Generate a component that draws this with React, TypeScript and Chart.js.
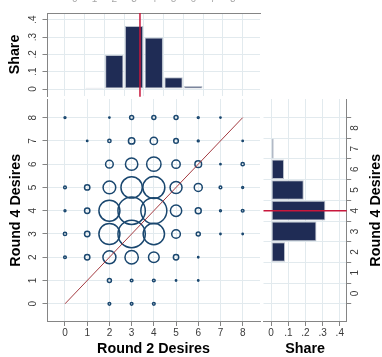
import React, { useEffect, useRef } from "react";
import { Chart, registerables } from "chart.js";

Chart.register(...registerables);

// ---------- data ----------
const ROUND2_LEVELS = [0, 1, 2, 3, 4, 5, 6, 7, 8];
const ROUND4_LEVELS = [0, 1, 2, 3, 4, 5, 6, 7, 8];

// frequency of each (Round 2, Round 4) pair; one array per Round 4 level, columns are Round 2 = 0..8
const FREQ_R4_0 = [0, 0, 4, 4, 4, 0, 0, 0, 0];
const FREQ_R4_1 = [0, 0, 9, 4, 4, 1, 1, 0, 0];
const FREQ_R4_2 = [4, 16, 95, 100, 64, 16, 1, 0, 0];
const FREQ_R4_3 = [6, 16, 248, 420, 256, 42, 9, 1, 1];
const FREQ_R4_4 = [2, 16, 248, 420, 380, 72, 20, 2, 4];
const FREQ_R4_5 = [4, 16, 90, 256, 272, 81, 36, 4, 2];
const FREQ_R4_6 = [0, 0, 33, 86, 116, 39, 25, 1, 6];
const FREQ_R4_7 = [0, 1, 6, 23, 30, 12, 2, 0, 1];
const FREQ_R4_8 = [2, 0, 1, 9, 9, 9, 2, 1, 0];
const FREQ_ROWS = [FREQ_R4_0, FREQ_R4_1, FREQ_R4_2, FREQ_R4_3, FREQ_R4_4, FREQ_R4_5, FREQ_R4_6, FREQ_R4_7, FREQ_R4_8];

const ROUND2_HIST_LEVELS = [1, 2, 3, 4, 5, 6];
const ROUND2_HIST_SHARE = [0.008, 0.197, 0.364, 0.297, 0.068, 0.017];
const ROUND4_HIST_LEVELS = [2, 3, 4, 5, 6, 7];
const ROUND4_HIST_SHARE = [0.081, 0.264, 0.316, 0.19, 0.075, 0.015];

const ROUND2_MEAN = 3.3;
const ROUND4_MEAN = 3.99;

const DIAG_X = [0, 8];
const DIAG_Y = [0, 8];

const LEVEL_TICKS = [0, 1, 2, 3, 4, 5, 6, 7, 8];
const LEVEL_TICK_LABELS = ["0", "1", "2", "3", "4", "5", "6", "7", "8"];
const SHARE_TICKS = [0, 0.1, 0.2, 0.3, 0.4];
const SHARE_TICK_LABELS = ["0", ".1", ".2", ".3", ".4"];

// axis ranges
const X_LEVEL_MIN = -0.81;
const X_LEVEL_MAX = 8.78;
const Y_LEVEL_MIN = -0.76;
const Y_LEVEL_MAX = 8.8;
const TOP_SHARE_MIN = -0.04;
const TOP_SHARE_MAX = 0.4387;
const RIGHT_SHARE_MIN = -0.0446;
const RIGHT_SHARE_MAX = 0.4403;

// ---------- layout / style ----------
const W = 382;
const H = 357;
const SCATTER_BOX = { l: 47, t: 99, r: 260, b: 321.5 };
const TOP_BOX = { l: 47, t: 13, r: 260, b: 96 };
const RIGHT_BOX = { l: 263.5, t: 99, r: 346.7, b: 321.5 };

const GRID = "#e2eaee";
const AXIS = "#858585";
const NAVY = "#1a476f";
const BAR = "#1f2c55";
const BAR_EDGE = "#b9c0cc";
const DIAG_COLOR = "#a33a40";
const MEAN_COLOR = "#c8173c";
const TICK_FONT = "10px 'Liberation Sans', Arial, sans-serif";
const TITLE_FONT = "bold 14.3px 'Liberation Sans', Arial, sans-serif";
const TICK_TEXT = "#3a3a3a";
const BUBBLE_SCALE = 0.667;

const pad = (b: { l: number; t: number; r: number; b: number }) => ({
  left: b.l,
  top: b.t,
  right: W - b.r,
  bottom: H - b.b,
});

function text(
  ctx: CanvasRenderingContext2D,
  s: string,
  x: number,
  y: number,
  font: string,
  color: string,
  rotate = false,
  baseline: CanvasTextBaseline = "middle"
) {
  ctx.save();
  ctx.translate(x, y);
  if (rotate) ctx.rotate(-Math.PI / 2);
  ctx.font = font;
  ctx.fillStyle = color;
  ctx.textAlign = "center";
  ctx.textBaseline = baseline;
  ctx.fillText(s, 0, 0);
  ctx.restore();
}

function axis(
  min: number,
  max: number,
  position: string,
  ticks: number[],
  drawTicks = true,
  showBorder = true
) {
  return {
    type: "linear",
    position,
    min,
    max,
    afterBuildTicks: (s: any) => {
      s.ticks = ticks.map((v) => ({ value: v }));
    },
    afterFit: (s: any) => {
      if (s.isHorizontal()) s.height = 0;
      else s.width = 0;
    },
    ticks: { display: false },
    grid: {
      color: GRID,
      lineWidth: 1,
      drawTicks,
      tickLength: 4.5,
      tickColor: AXIS,
      tickWidth: 1,
    },
    border: { display: showBorder, color: AXIS, width: 1 },
  } as any;
}

const baseOptions = (box: any) => ({
  responsive: false,
  animation: false as const,
  devicePixelRatio: 1,
  events: [],
  layout: { padding: pad(box), autoPadding: false },
  plugins: { legend: { display: false }, tooltip: { enabled: false } },
});

function scatterConfig(): any {
  const points: { x: number; y: number; r: number }[] = [];
  FREQ_ROWS.forEach((row, yi) =>
    row.forEach((n, xi) => {
      if (n > 0) points.push({ x: ROUND2_LEVELS[xi], y: ROUND4_LEVELS[yi], r: BUBBLE_SCALE * Math.sqrt(n) });
    })
  );
  return {
    type: "bubble",
    data: {
      datasets: [
        {
          type: "line",
          data: DIAG_X.map((x, i) => ({ x, y: DIAG_Y[i] })),
          borderColor: DIAG_COLOR,
          borderWidth: 1,
          pointRadius: 0,
          fill: false,
          order: 0,
        },
        {
          type: "bubble",
          data: points,
          backgroundColor: "rgba(0,0,0,0)",
          borderColor: NAVY,
          borderWidth: 1.5,
          order: 1,
        },
      ],
    },
    options: {
      ...baseOptions(SCATTER_BOX),
      scales: {
        x: axis(X_LEVEL_MIN, X_LEVEL_MAX, "bottom", LEVEL_TICKS),
        y: axis(Y_LEVEL_MIN, Y_LEVEL_MAX, "left", LEVEL_TICKS),
      },
    },
    plugins: [
      {
        id: "scatterText",
        afterDraw(chart: any) {
          const ctx = chart.ctx;
          const { x, y } = chart.scales;
          const a = chart.chartArea;
          LEVEL_TICKS.forEach((v, i) => {
            text(ctx, LEVEL_TICK_LABELS[i], x.getPixelForValue(v), a.bottom + 11.5, TICK_FONT, TICK_TEXT);
            text(ctx, LEVEL_TICK_LABELS[i], a.left - 13.5, y.getPixelForValue(v), TICK_FONT, TICK_TEXT, true);
          });
          text(ctx, "Round 2 Desires", (a.left + a.right) / 2, 349.5, TITLE_FONT, "#000");
          text(ctx, "Round 4 Desires", 16.5, (a.top + a.bottom) / 2, TITLE_FONT, "#000", true);
        },
      },
    ],
  };
}

function topConfig(): any {
  return {
    type: "bar",
    data: {
      datasets: [
        {
          data: ROUND2_HIST_LEVELS.map((x, i) => ({ x, y: ROUND2_HIST_SHARE[i] })),
          backgroundColor: BAR,
          borderColor: BAR_EDGE,
          borderWidth: 1,
          borderSkipped: false,
          barPercentage: 0.93,
          categoryPercentage: 1,
        },
      ],
    },
    options: {
      ...baseOptions(TOP_BOX),
      scales: {
        x: axis(X_LEVEL_MIN, X_LEVEL_MAX, "top", LEVEL_TICKS, false),
        y: axis(TOP_SHARE_MIN, TOP_SHARE_MAX, "left", SHARE_TICKS),
      },
    },
    plugins: [
      {
        id: "topText",
        afterDraw(chart: any) {
          const ctx = chart.ctx;
          const { x, y } = chart.scales;
          const a = chart.chartArea;
          // mean line
          const mx = x.getPixelForValue(ROUND2_MEAN);
          ctx.save();
          ctx.strokeStyle = MEAN_COLOR;
          ctx.lineWidth = 1.5;
          ctx.beginPath();
          ctx.moveTo(mx, a.top);
          ctx.lineTo(mx, a.bottom + 0.7);
          ctx.stroke();
          ctx.restore();
          SHARE_TICKS.forEach((v, i) => {
            text(ctx, SHARE_TICK_LABELS[i], a.left - 13.5, y.getPixelForValue(v), TICK_FONT, TICK_TEXT, true);
          });
          // top axis labels (almost entirely outside the picture)
          LEVEL_TICKS.forEach((v, i) => {
            text(ctx, LEVEL_TICK_LABELS[i], x.getPixelForValue(v), 1.8, TICK_FONT, "#a8a8a8", false, "alphabetic");
          });
          text(ctx, "Share", 15, (a.top + a.bottom) / 2, TITLE_FONT, "#000", true);
        },
      },
    ],
  };
}

function rightConfig(): any {
  return {
    type: "bar",
    data: {
      datasets: [
        {
          data: ROUND4_HIST_LEVELS.map((lv, i) => ({ x: ROUND4_HIST_SHARE[i], y: lv })),
          backgroundColor: BAR,
          borderColor: BAR_EDGE,
          borderWidth: 1,
          borderSkipped: false,
          barPercentage: 0.95,
          categoryPercentage: 1,
        },
      ],
    },
    options: {
      ...baseOptions(RIGHT_BOX),
      indexAxis: "y",
      scales: {
        x: axis(RIGHT_SHARE_MIN, RIGHT_SHARE_MAX, "bottom", SHARE_TICKS),
        y: axis(Y_LEVEL_MIN, Y_LEVEL_MAX, "right", LEVEL_TICKS),
      },
    },
    plugins: [
      {
        id: "rightText",
        afterDraw(chart: any) {
          const ctx = chart.ctx;
          const { x, y } = chart.scales;
          const a = chart.chartArea;
          const my = y.getPixelForValue(ROUND4_MEAN);
          ctx.save();
          ctx.strokeStyle = MEAN_COLOR;
          ctx.lineWidth = 1.5;
          ctx.beginPath();
          ctx.moveTo(a.left, my);
          ctx.lineTo(a.right, my);
          ctx.stroke();
          ctx.restore();
          SHARE_TICKS.forEach((v, i) => {
            text(ctx, SHARE_TICK_LABELS[i], x.getPixelForValue(v), a.bottom + 11.5, TICK_FONT, TICK_TEXT);
          });
          LEVEL_TICKS.forEach((v, i) => {
            text(ctx, LEVEL_TICK_LABELS[i], a.right + 8.5, y.getPixelForValue(v), TICK_FONT, TICK_TEXT, true);
          });
          text(ctx, "Share", (a.left + a.right) / 2, 349.5, TITLE_FONT, "#000");
          text(ctx, "Round 4 Desires", 376, (a.top + a.bottom) / 2, TITLE_FONT, "#000", true);
        },
      },
    ],
  };
}

function ChartCanvas({ make }: { make: () => any }) {
  const ref = useRef<HTMLCanvasElement | null>(null);
  useEffect(() => {
    if (!ref.current) return;
    const c = new Chart(ref.current, make());
    return () => c.destroy();
  }, [make]);
  return (
    <canvas
      ref={ref}
      width={W}
      height={H}
      style={{ position: "absolute", left: 0, top: 0, width: W, height: H, pointerEvents: "none" }}
    />
  );
}

export default function App() {
  return (
    <div style={{ position: "absolute", left: 0, top: 0, width: W, height: H, background: "#fff", overflow: "hidden" }}>
      <ChartCanvas make={topConfig} />
      <ChartCanvas make={rightConfig} />
      <ChartCanvas make={scatterConfig} />
    </div>
  );
}
